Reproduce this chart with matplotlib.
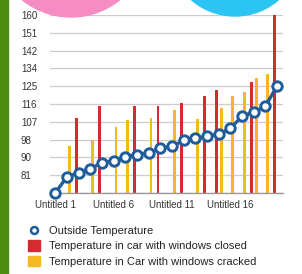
import matplotlib
matplotlib.use("Agg")
import matplotlib.pyplot as plt
from matplotlib.patches import Rectangle, Circle, Patch
from matplotlib.lines import Line2D
import numpy as np

plt.rcParams['font.family'] = ['Liberation Sans', 'DejaVu Sans']

categories = ["Untitled %d" % i for i in range(1, 21)]
outside = [72, 80, 82, 84, 87, 88, 90, 91, 92, 94, 95, 98, 99, 100, 101, 104, 110, 112, 115, 125]
closed = [None, None, 109, None, 115, None, None, 115, None, 115,
          None, 116.5, None, 120, 123, None, None, 127, None, 160]
cracked = [None, 95, None, 98, None, 104.5, 108, None, 109, None,
           113, None, 108.5, None, 114, 120, 122, 129, 131, None]
y_ticks = [72, 80.8, 89.6, 98.4, 107.2, 116, 124.8, 133.6, 142.4, 151.2, 160]
y_labels = ['', '81', '90', '98', '107', '116', '125', '134', '142', '151', '160']
x_label_idx = [1, 6, 11, 16]

blue = '#1f5c9a'
red = '#d42a30'
yellow = '#f5b820'

fig = plt.figure(figsize=(3.02, 2.74), dpi=100)
ax = fig.add_axes([50/302, 1-193/274, 233/302, 178/274])

x = np.arange(1, 21)
base = y_ticks[0]
for xi, v in zip(x, closed):
    if v is not None:
        ax.bar(xi - 0.2, v - base, bottom=base, width=0.24, color=red, zorder=2)
for xi, v in zip(x, cracked):
    if v is not None:
        ax.bar(xi + 0.2, v - base, bottom=base, width=0.24, color=yellow, zorder=2)

ax.plot(x, outside, color=blue, lw=2.4, marker='o', markersize=6.8,
        markerfacecolor='white', markeredgecolor=blue, markeredgewidth=2.1,
        zorder=3, clip_on=False)

ax.set_xlim(0.55, 20.5)
ax.set_ylim(72, 160)
ax.set_yticks(y_ticks)
ax.set_yticklabels(y_labels)
ax.set_xticks(x_label_idx)
ax.set_xticklabels([categories[i-1] for i in x_label_idx])
ax.tick_params(axis='both', length=0, labelsize=7, colors='#333333')
ax.tick_params(axis='y', pad=21)
for lbl in ax.get_yticklabels():
    lbl.set_horizontalalignment('left')
ax.tick_params(axis='x', pad=5)
ax.grid(axis='y', color='#cccccc', lw=0.9, zorder=0)
ax.set_axisbelow(True)
for s in ['top', 'right', 'left']:
    ax.spines[s].set_visible(False)
ax.spines['bottom'].set_color('#999999')
ax.spines['bottom'].set_linewidth(1)

# poster decorations
fig.add_artist(Rectangle((0, 0), 8/302, 1, transform=fig.transFigure,
                         color='#4e8c10', zorder=5))
fig.add_artist(Circle((0.71, 3.347), 0.777, transform=fig.dpi_scale_trans,
                      color='#f58dc4', zorder=5))
fig.add_artist(Circle((2.35, 3.246), 0.666, transform=fig.dpi_scale_trans,
                      color='#2bc4f3', zorder=5))

handles = [
    Line2D([], [], linestyle='none', marker='o', markersize=5,
           markerfacecolor='white', markeredgecolor=blue, markeredgewidth=1.8),
    Patch(color=red),
    Patch(color=yellow),
]
labels = ['Outside Temperature', 'Temperature in car with windows closed',
          'Temperature in Car with windows cracked']
fig.legend(handles, labels, loc='upper left', bbox_to_anchor=(28/302, 1-225/274),
           frameon=False, fontsize=8, handlelength=1.1, handleheight=1.1,
           handletextpad=0.8, labelspacing=0.38, borderpad=0, borderaxespad=0,
           labelcolor='#222222')

fig.savefig('out.png', dpi=100)
